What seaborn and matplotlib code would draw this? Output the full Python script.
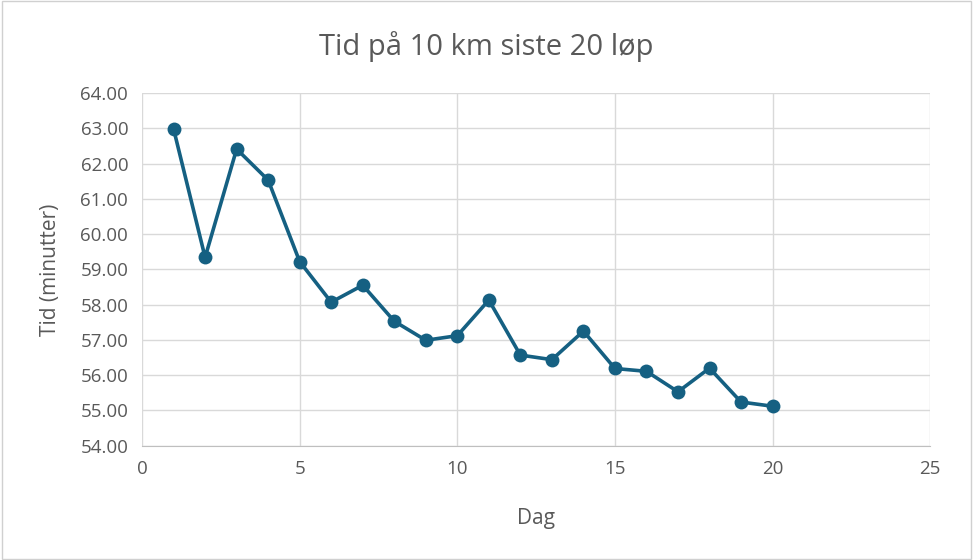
import seaborn as sns
import matplotlib.pyplot as plt
import pandas as pd

dag = list(range(1, 21))
tid = [62.98, 59.34, 62.41, 61.53, 59.22, 58.07, 58.55, 57.53, 56.99, 57.12,
       58.13, 56.57, 56.44, 57.25, 56.19, 56.11, 55.53, 56.20, 55.24, 55.12]
x_ticks = [0, 5, 10, 15, 20, 25]
y_ticks = [54, 55, 56, 57, 58, 59, 60, 61, 62, 63, 64]

df = pd.DataFrame({'Dag': dag, 'Tid': tid})

sns.set_style('white')
plt.rcParams['font.family'] = ['Open Sans', 'DejaVu Sans']

grey = '#595959'
fig = plt.figure(figsize=(9.73, 5.6), dpi=100)
ax = fig.add_axes([0.146, 0.204, 0.810, 0.630])

sns.lineplot(data=df, x='Dag', y='Tid', ax=ax, color='#156082',
             linewidth=2.6, marker='o', markersize=10, markeredgewidth=0)

ax.set_xlim(0, 25)
ax.set_ylim(54, 64)
ax.set_xticks(x_ticks)
ax.set_yticks(y_ticks)
ax.set_yticklabels(['{:.2f}'.format(v) for v in y_ticks])
ax.grid(True, color='#d9d9d9', linewidth=1)
ax.set_axisbelow(True)
for side in ['top', 'right', 'left']:
    ax.spines[side].set_visible(False)
ax.spines['bottom'].set_color('#bfbfbf')
ax.tick_params(axis='both', length=0, colors=grey, labelsize=13.5, pad=10)

ax.set_xlabel('Dag', fontsize=15, color=grey, labelpad=22)
ax.set_ylabel('Tid (minutter)', fontsize=15, color=grey, labelpad=14)
fig.suptitle('Tid på 10 km siste 20 løp', fontsize=21, color=grey, y=0.945)

fig.patches.append(plt.Rectangle((0.002, 0.002), 0.996, 0.996, transform=fig.transFigure,
                                 fill=False, edgecolor='#d0d0d0', linewidth=1))

fig.savefig('out.png', dpi=100)
